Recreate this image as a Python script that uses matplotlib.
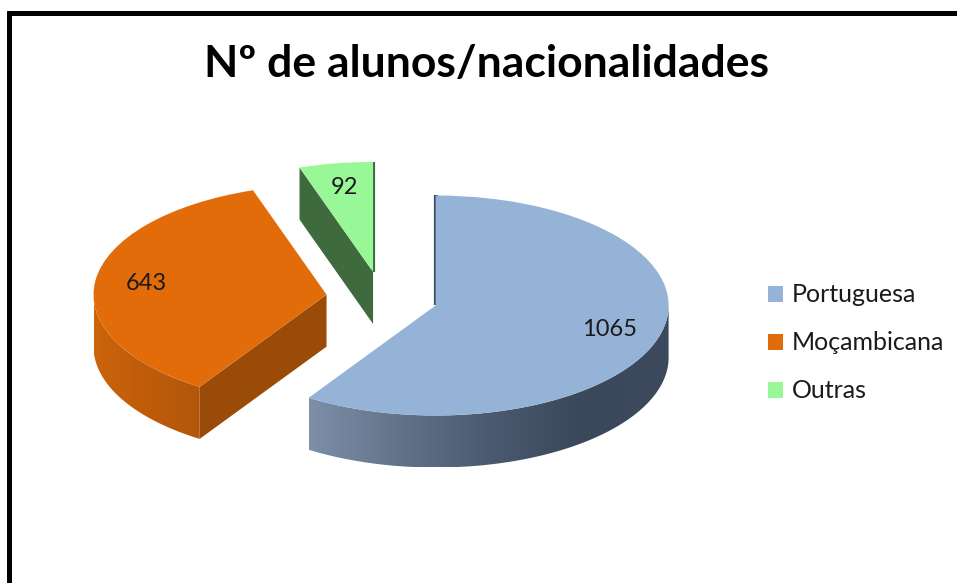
import numpy as np
import matplotlib.pyplot as plt
from matplotlib.patches import Polygon, Patch, Rectangle
from matplotlib.colors import LinearSegmentedColormap

# dados
nacionalidades = ["Portuguesa", "Moçambicana", "Outras"]
alunos = [1065, 643, 92]

cor_topo = ["#95B3D7", "#E36C0A", "#98F898"]
cor_lado = [["#7D8FA9", "#627389", "#4B5A70", "#3B485B", "#3D4A5D"],
            ["#CB640B", "#BF5C0A", "#B2570A"],
            ["#3E6A3E", "#3E6A3E"]]
cor_corte = ["#3B485B", "#9A4B07", "#3E6A3E"]

plt.rcParams['font.family'] = ['Lato', 'DejaVu Sans']

W, H = 957, 583
fig = plt.figure(figsize=(W / 100, H / 100), dpi=100)
ax = fig.add_axes([0, 0, 1, 1])

# escala da elipse (pixels por unidade)
cx_px, cy_px = 382, 298
a_px, b_px = 233, 110
prof = 52 / b_px

total = sum(alunos)
wedges, _, rotulos = ax.pie(
    alunos, explode=[0.24] * 3, startangle=90, counterclock=False,
    colors=cor_topo, autopct=lambda p: f"{round(p * total / 100)}",
    pctdistance=0.78, wedgeprops=dict(linewidth=0, zorder=3),
    textprops=dict(fontsize=17, color="#1a1a1a"))
for t in rotulos:
    t.set_zorder(6)


def lado_curvo(pts, cores):
    poly = np.vstack([pts, (pts - [0, prof])[::-1]])
    patch = Polygon(poly, closed=True, facecolor="none", edgecolor="none", zorder=2)
    ax.add_patch(patch)
    cmap = LinearSegmentedColormap.from_list("lado", cores)
    grad = np.linspace(0, 1, 256).reshape(1, -1)
    ax.imshow(grad, cmap=cmap, aspect="auto", zorder=2, clip_path=patch,
              extent=[poly[:, 0].min(), poly[:, 0].max(), poly[:, 1].min(), poly[:, 1].max()])


# paredes laterais (3D)
for i, w in enumerate(wedges):
    cx, cy = w.center
    t1, t2 = w.theta1, w.theta2
    ang = np.radians(np.linspace(t1, t2, 400))
    vis = np.sin(ang) < 0
    if vis.any():
        idx = np.where(vis)[0]
        runs = np.split(idx, np.where(np.diff(idx) > 1)[0] + 1)
        for r in runs:
            if len(r) < 2:
                continue
            pts = np.column_stack([cx + np.cos(ang[r]), cy + np.sin(ang[r])])
            lado_curvo(pts, cor_lado[i])
    for t, ok in ((t2, np.cos(np.radians(t2)) < -1e-6), (t1, np.cos(np.radians(t1)) > 1e-6)):
        if ok:
            rx, ry = cx + np.cos(np.radians(t)), cy + np.sin(np.radians(t))
            ax.add_patch(Polygon([(cx, cy), (rx, ry), (rx, ry - prof), (cx, cy - prof)],
                                 closed=True, facecolor=cor_corte[i], edgecolor="none", zorder=2))
        elif abs(np.cos(np.radians(t))) <= 1e-6:
            # parede vista de perfil: so um filete escuro
            ax.plot([cx, cx + np.cos(np.radians(t))], [cy, cy + np.sin(np.radians(t))],
                    color=cor_corte[i], linewidth=3, zorder=2, solid_capstyle="butt")

ax.set_aspect("auto")
ax.set_xlim(-cx_px / a_px, (W - cx_px) / a_px)
ax.set_ylim((cy_px - H) / b_px, cy_px / b_px)
ax.axis("off")

# titulo
fig.text(487 / W, 1 - 77 / H, "Nº de alunos/nacionalidades", ha="center", va="baseline",
         fontsize=32, fontweight="bold", color="black")

# legenda
handles = [Patch(facecolor=c, edgecolor="none") for c in cor_topo]
fig.legend(handles, nacionalidades, loc="center left", bbox_to_anchor=(768 / W, 1 - 343 / H),
           frameon=False, fontsize=18, handlelength=0.6, handleheight=0.6,
           handletextpad=0.35, labelspacing=1.0, borderpad=0, borderaxespad=0,
           labelcolor="#1a1a1a")

# moldura
fig.add_artist(Rectangle((8.5 / W, -0.2), 1.5, 1.2 - 12.5 / H, transform=fig.transFigure,
                         facecolor="none", edgecolor="black", linewidth=3.6, joinstyle="miter"))

fig.savefig("out.png", dpi=100)
